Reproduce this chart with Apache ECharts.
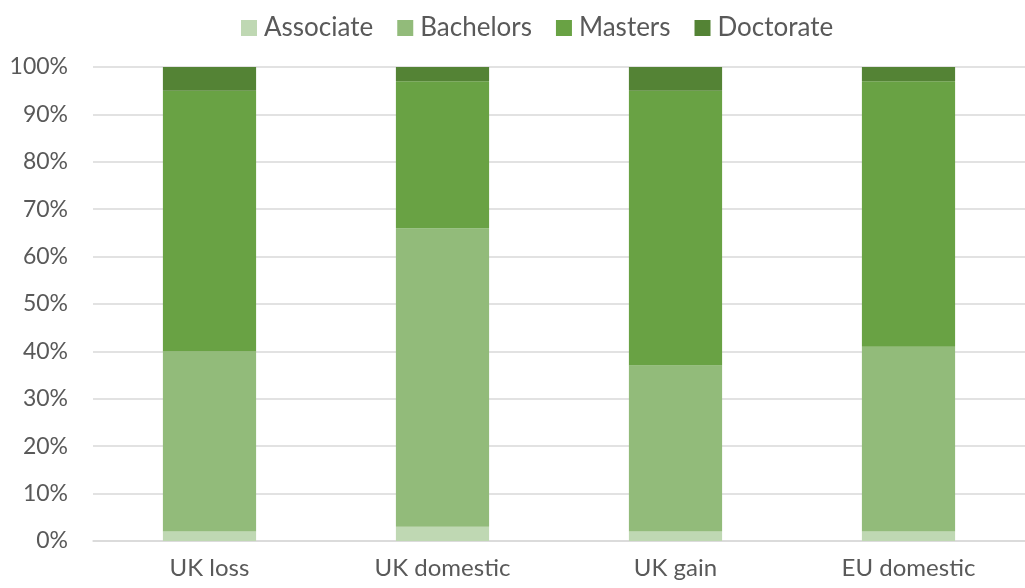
<!DOCTYPE html>
<html>
<head>
<meta charset="utf-8">
<script src="https://cdn.jsdelivr.net/npm/echarts@6/dist/echarts.min.js"></script>
<style>
  html, body { margin: 0; padding: 0; background: #fff; }
  #box { width: 1025px; height: 588px; }
</style>
</head>
<body>
<div id="box"></div>
<script>
const categories = ['UK loss', 'UK domestic', 'UK gain', 'EU domestic'];
const associate = [2, 3, 2, 2];
const bachelors = [38, 63, 35, 39];
const masters = [55, 31, 58, 56];
const doctorate = [5, 3, 5, 3];

const font = 'Lato, "Open Sans", sans-serif';
const myecharts = echarts.init(document.getElementById('box'));

function bar(name, data, color) {
  return {
    name: name,
    type: 'bar',
    stack: 'total',
    barCategoryGap: '60%',
    data: data,
    itemStyle: { color: color },
    emphasis: { disabled: true }
  };
}

const options = {
  animation: false,
  textStyle: { fontFamily: font },
  legend: {
    top: 10,
    left: 236,
    itemWidth: 16,
    itemHeight: 16,
    itemGap: 24,
    icon: 'rect',
    textStyle: { fontSize: 26, color: '#595959', fontFamily: font, padding: [0, 0, 0, 2] }
  },
  grid: { left: 93, right: -8, top: 67, bottom: 47 },
  xAxis: {
    type: 'category',
    data: categories,
    axisLine: { lineStyle: { color: '#d9d9d9', width: 1.5 } },
    axisTick: { show: false },
    axisLabel: { fontSize: 24, color: '#595959', margin: 15 }
  },
  yAxis: {
    type: 'value',
    min: 0,
    max: 100,
    interval: 10,
    axisLabel: { formatter: '{value}%', fontSize: 23, color: '#595959', margin: 25 },
    splitLine: { lineStyle: { color: '#d9d9d9', width: 1.5 } }
  },
  series: [
    bar('Associate', associate, '#bfd8b3'),
    bar('Bachelors', bachelors, '#92bb7a'),
    bar('Masters', masters, '#69a244'),
    bar('Doctorate', doctorate, '#548335')
  ]
};
myecharts.setOption(options);
</script>
</body>
</html>
